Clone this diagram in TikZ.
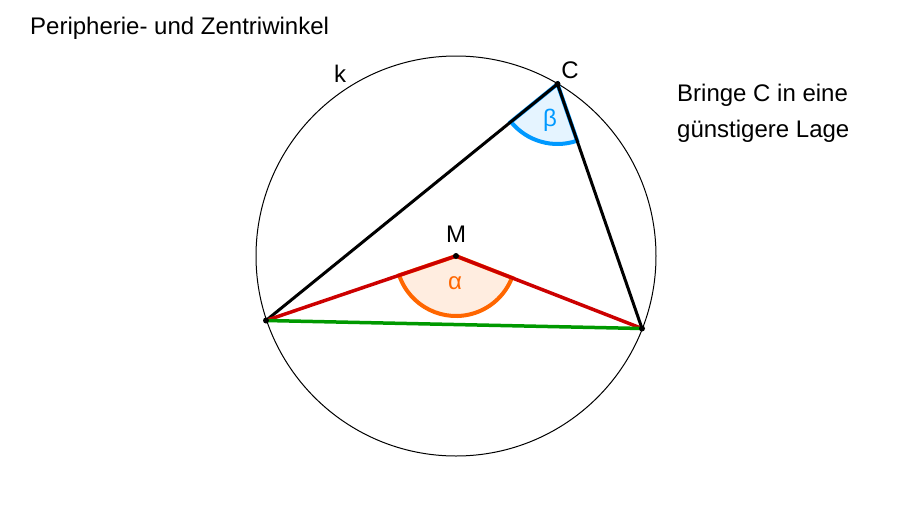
\documentclass[tikz,border=0pt]{standalone}
\usepackage{fontspec}
\setmainfont{Liberation Sans}
\usetikzlibrary{calc}
\definecolor{segred}{RGB}{204,0,0}
\definecolor{seggreen}{RGB}{0,153,0}
\definecolor{alphaor}{RGB}{255,102,0}
\definecolor{alphafill}{RGB}{255,237,224}
\definecolor{betablue}{RGB}{0,153,255}
\definecolor{betafill}{RGB}{229,244,255}
\tikzset{
  pt/.style={circle,fill=black,inner sep=0pt,minimum size=6pt},
  lbl/.style={font=\fontsize{24}{28}\selectfont,inner sep=0pt,anchor=base},
  seg/.style={line width=3.5pt,line cap=round},
  txt/.style={font=\fontsize{24}{28}\selectfont,inner sep=0pt,anchor=base west},
}
\begin{document}
\begin{tikzpicture}[x=1pt,y=-1pt]
\useasboundingbox (0,0) rectangle (919,528);
\coordinate (M) at (456,256);
\coordinate (A) at (266,320.5);
\coordinate (B) at (642,328.5);
\coordinate (C) at (557.5,84);
% circle k
\draw[line width=1pt] (M) circle[radius=200pt];
% sector alpha at M
\draw[alphaor,fill=alphafill,line width=4pt]
  let \p1=($(A)-(M)$), \p2=($(B)-(M)$),
      \n1={atan2(\y1,\x1)+360}, \n2={atan2(\y2,\x2)+360}
  in (M) -- ++(\n1:60pt) arc[start angle=\n1,end angle=\n2,radius=60pt] -- cycle;
% sector beta at C
\draw[betablue,fill=betafill,line width=4pt]
  let \p1=($(A)-(C)$), \p2=($(B)-(C)$),
      \n1={atan2(\y1,\x1)+360}, \n2={atan2(\y2,\x2)+360}
  in (C) -- ++(\n1:60pt) arc[start angle=\n1,end angle=\n2,radius=60pt] -- cycle;
% segments
\draw[seg,black,line width=3pt] (A) -- (C) -- (B);
\draw[seg,segred] (A) -- (M) -- (B);
\draw[seg,seggreen] (A) -- (B);
% points
\node[pt] (pA) at (A) {};
\node[pt] (pB) at (B) {};
\node[pt] (pC) at (C) {};
\node[pt] (pM) at (M) {};
% labels
\node[lbl] (lM) at (456,242) {M};
\node[lbl] (lC) at (570,78) {C};
\node[lbl] (lk) at (340,82) {k};
\node[lbl,text=alphaor] (la) at (455,289) {α};
\node[lbl,text=betablue] (lb) at (550,126) {β};
\node[txt] (title) at (30,34) {Peripherie- und Zentriwinkel};
\node[txt] (br1) at (677,101) {Bringe C in eine};
\node[txt] (br2) at (677,137) {günstigere Lage};
\end{tikzpicture}
\end{document}
